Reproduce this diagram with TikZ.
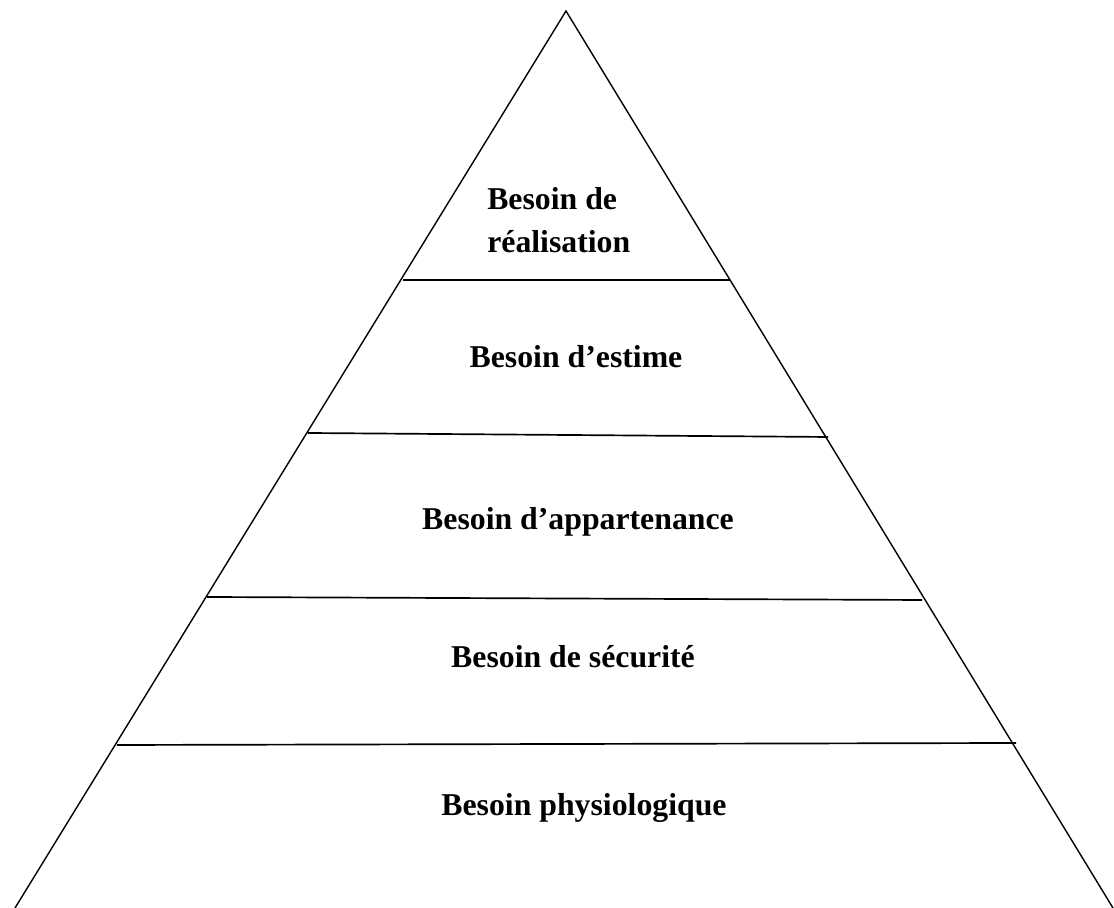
\documentclass[tikz,border=0pt]{standalone}
\usepackage{fontspec}
\setmainfont{Liberation Serif}
\usepackage{tikz}

\begin{document}
\begin{tikzpicture}[besoin/.style={inner sep=0pt, font=\fontsize{22.6}{31}\selectfont\bfseries}]
\useasboundingbox (0,0) rectangle (27.85,22.7);
\coordinate (top) at (14.15,22.425);
\coordinate (bl) at (0.375,0);
\coordinate (br) at (27.825,0);
\draw[line width=1pt] (bl) -- (top) -- (br);
\coordinate (a1) at (10.075,15.7);
\coordinate (a2) at (18.25,15.7);
\coordinate (b1) at (7.7,11.875);
\coordinate (b2) at (20.7,11.775);
\coordinate (c1) at (5.175,7.775);
\coordinate (c2) at (23.05,7.7);
\coordinate (d1) at (2.925,4.075);
\coordinate (d2) at (25.4,4.125);
\draw[line width=1.2pt] (a1)--(a2) (b1)--(b2) (c1)--(c2) (d1)--(d2);
\node[besoin, anchor=west, align=left](r) at (12.175,17.2){Besoin de\\réalisation};
\node[besoin](e) at (14.4,13.775){Besoin d’estime};
\node[besoin](a) at (14.45,9.65){Besoin d’appartenance};
\node[besoin](s) at (14.325,6.275){Besoin de sécurité};
\node[besoin](p) at (14.6,2.5){Besoin physiologique};
\end{tikzpicture}
\end{document}
